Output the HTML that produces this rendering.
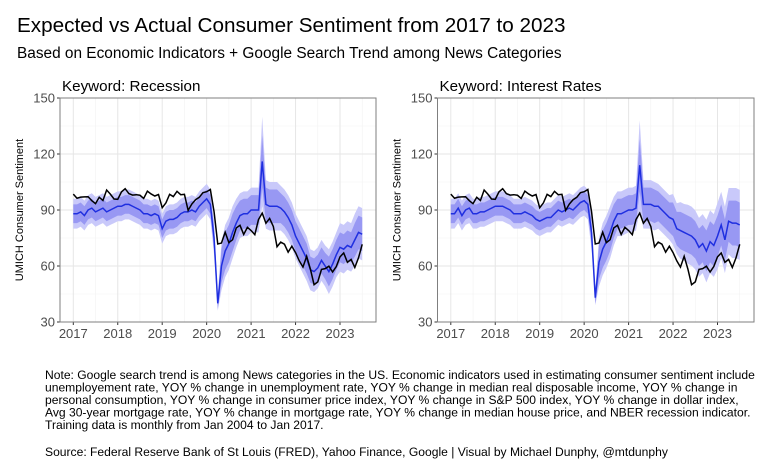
<!DOCTYPE html>
<html><head><meta charset="utf-8"><style>
body{margin:0;background:#fff;width:770px;height:475px;overflow:hidden;font-family:"Liberation Sans",Arial,sans-serif;}
svg{display:block}
</style></head><body>
<svg id="chart" width="770" height="475">
<text x="17" y="32" font-size="20.7" fill="#000">Expected vs Actual Consumer Sentiment from 2017 to 2023</text>
<text x="17" y="58" font-size="15.4" fill="#000">Based on Economic Indicators + Google Search Trend among News Categories</text>
<g font-size="12.1" fill="#000">
<text x="45" y="379">Note: Google search trend is among News categories in the US. Economic indicators used in estimating consumer sentiment include</text>
<text x="45" y="391.5">unemployement rate, YOY % change in unemployment rate, YOY % change in median real disposable income, YOY % change in</text>
<text x="45" y="404">personal consumption, YOY % change in consumer price index, YOY % change in S&amp;P 500 index, YOY % change in dollar index,</text>
<text x="45" y="416.5">Avg 30-year mortgage rate, YOY % change in mortgage rate, YOY % change in median house price, and NBER recession indicator.</text>
<text x="45" y="429">Training data is monthly from Jan 2004 to Jan 2017.</text>
<text x="45" y="456">Source: Federal Reserve Bank of St Louis (FRED), Yahoo Finance, Google | Visual by Michael Dunphy, @mtdunphy</text>
</g>
</svg>
<script>
const actual=[98.5,96.3,96.9,97.0,97.1,95.0,93.4,96.8,95.1,100.7,98.5,95.9,
95.7,99.7,101.4,98.8,98.0,98.2,97.9,96.2,100.1,98.6,97.5,98.3,
91.2,93.8,98.4,97.2,100.0,98.2,98.4,89.8,93.2,95.5,96.8,99.3,
99.8,101.0,89.1,71.8,72.3,78.1,72.5,74.1,80.4,81.8,76.9,80.7,
79.0,76.8,84.9,88.3,82.9,85.5,81.2,70.3,72.8,71.7,67.4,70.6,
67.2,62.8,59.4,65.2,58.4,50.0,51.5,58.2,58.6,59.9,56.8,59.7,
64.9,67.0,62.0,63.5,59.2,64.4,71.6];
const predRecession=[88,88,89,87,90,91,89,90,91,89,90,91,
92,92,93,93,92,91,90,88,88,87,88,87,
80,84,85,85,86,88,89,89,90,89,92,94,
96,93,75,40,60,68,72,78,83,87,88,88,
90,90,90,116,93,92,92,92,91,89,86,82,
76,72,68,64,58,57,59,63,60,57,61,66,
70,69,71,70,74,78,77];
const predRates=[88,88,91,87,90,91,88,88,89,89,90,91,
92,92,92,91,90,88,88,88,89,88,87,85,
84,85,86,86,88,90,89,90,91,90,92,94,
95,93,78,43,62,69,73,78,84,88,88,89,
90,90,91,114,93,93,93,92,92,90,88,86,
85,80,79,78,77,76,74,70,72,68,73,71,
76,82,74,84,83,83,82];
const innerW=[5,5,5,5,5,5,5,5,5,5,5,5,
5,5,5,5,5,5,5,5,5,5,5,5,
5,5,5,5,5,5,5,5,5,5,5,5,
5,5,6,3,9,10,10,10,9,8,8,8,
8,8,8,14,9,9,9,9,8,8,8,8,
8,8,8,8,7,7,7,7,7,8,8,8,
8,8,8,8,9,9,9];
const outerW=[8,8,8,8,8,8,8,8,8,8,8,8,
8,8,8,8,8,8,8,8,8,8,8,8,
8,8,8,8,8,8,8,8,8,8,8,8,
8,8,9,4,13,14,14,14,13,12,12,12,
12,12,12,24,13,13,13,13,12,12,12,12,
12,12,12,12,11,11,11,11,11,12,12,12,
13,13,13,13,14,14,14];
const ratesExtra=[0,0,0,0,0,0,0,0,0,0,0,0,0,0,0,0,0,0,0,0,0,0,0,0,0,0,0,0,0,0,0,0,0,0,0,0,
0,0,0,0,0,0,0,0,0,0,0,0,0,0,0,0,0,0,0,0,0,0,0,0,
1,1,2,2,3,3,3,3,3,3,3,3,3,3,3,3,3,3,3];
const yTicks=[30,60,90,120,150];
const xTicks=[2017,2018,2019,2020,2021,2022,2023];
const NS='http://www.w3.org/2000/svg';
const svg=document.getElementById('chart');
function mk(tag,attrs,parent){const e=document.createElementNS(NS,tag);for(const k in attrs)e.setAttribute(k,attrs[k]);(parent||svg).appendChild(e);return e;}
function panel(px0,px1,title,pred,extra,key){
  const top=98,bot=322;
  const g=mk('g',{});
  
  
  const x0=px0+13.3, perYear=44.45;
  const xs=t=>x0+(t-2017)*perYear;
  const ys=v=>bot-(v-30)*(bot-top)/120;
  const xm=i=>xs(2017+i/12);
  mk('rect',{x:px0,y:top,width:px1-px0,height:bot-top,fill:'#fff'},g);
  for(let i=0;i<yTicks.length-1;i++){const v=(yTicks[i]+yTicks[i+1])/2;mk('line',{x1:px0,x2:px1,y1:ys(v),y2:ys(v),stroke:'#f2f2f2','stroke-width':0.6},g);}
  for(let i=0;i<xTicks.length;i++){const t=xTicks[i]+0.5;if(xs(t)<px1)mk('line',{x1:xs(t),x2:xs(t),y1:top,y2:bot,stroke:'#f2f2f2','stroke-width':0.6},g);}
  yTicks.forEach(v=>{mk('line',{x1:px0,x2:px1,y1:ys(v),y2:ys(v),stroke:'#e6e6e6','stroke-width':1},g);
    const tl=mk('text',{x:px0-5,y:ys(v)+4.5,'font-size':13,fill:'#4d4d4d','text-anchor':'end'},g);tl.textContent=v;
    
    
    mk('line',{x1:px0-3,x2:px0,y1:ys(v),y2:ys(v),stroke:'#333','stroke-width':1},g);});
  xTicks.forEach(t=>{mk('line',{x1:xs(t),x2:xs(t),y1:top,y2:bot,stroke:'#e6e6e6','stroke-width':1},g);
    mk('line',{x1:xs(t),x2:xs(t),y1:bot,y2:bot+3,stroke:'#333','stroke-width':1},g);
    const tl=mk('text',{x:xs(t),y:bot+16,'font-size':13,fill:'#4d4d4d','text-anchor':'middle'},g);tl.textContent=t;
    
    });
  function band(w,color,name){
    let up=pred.map((v,i)=>xm(i)+','+ys(v+w[i]+extra[i]*(w===outerW?1.6:1)));
    let lo=pred.map((v,i)=>xm(i)+','+ys(v-w[i]-extra[i]*(w===outerW?1.6:1))).reverse();
    const p=mk('polygon',{points:up.concat(lo).join(' '),fill:color},g);
    
    
  }
  band(outerW,'#c9c9fa','outer-prediction-band');
  band(innerW,'#9898f3','inner-prediction-band');
  const pl=mk('polyline',{points:pred.map((v,i)=>xm(i)+','+ys(v)).join(' '),fill:'none',stroke:'#1f2fe0','stroke-width':1.5},g);
  
  
  const al=mk('polyline',{points:actual.map((v,i)=>xm(i)+','+ys(v)).join(' '),fill:'none',stroke:'#000','stroke-width':1.5},g);
  
  
  mk('rect',{x:px0,y:top,width:px1-px0,height:bot-top,fill:'none',stroke:'#7f7f7f','stroke-width':1},g);
  const tt=mk('text',{x:px0+2,y:top-7,'font-size':15.2,fill:'#000'},g);tt.textContent=title;
  
  
  const yt=mk('text',{x:0,y:0,'font-size':11,fill:'#000','text-anchor':'middle',transform:`translate(${px0-37},${(top+bot)/2}) rotate(-90)`},g);yt.textContent='UMICH Consumer Sentiment';
  
  
}
panel(60,376,'Keyword: Recession',predRecession,new Array(79).fill(0),'recession');
panel(437.5,754,'Keyword: Interest Rates',predRates,ratesExtra,'interest-rates');
</script>
</body></html>
